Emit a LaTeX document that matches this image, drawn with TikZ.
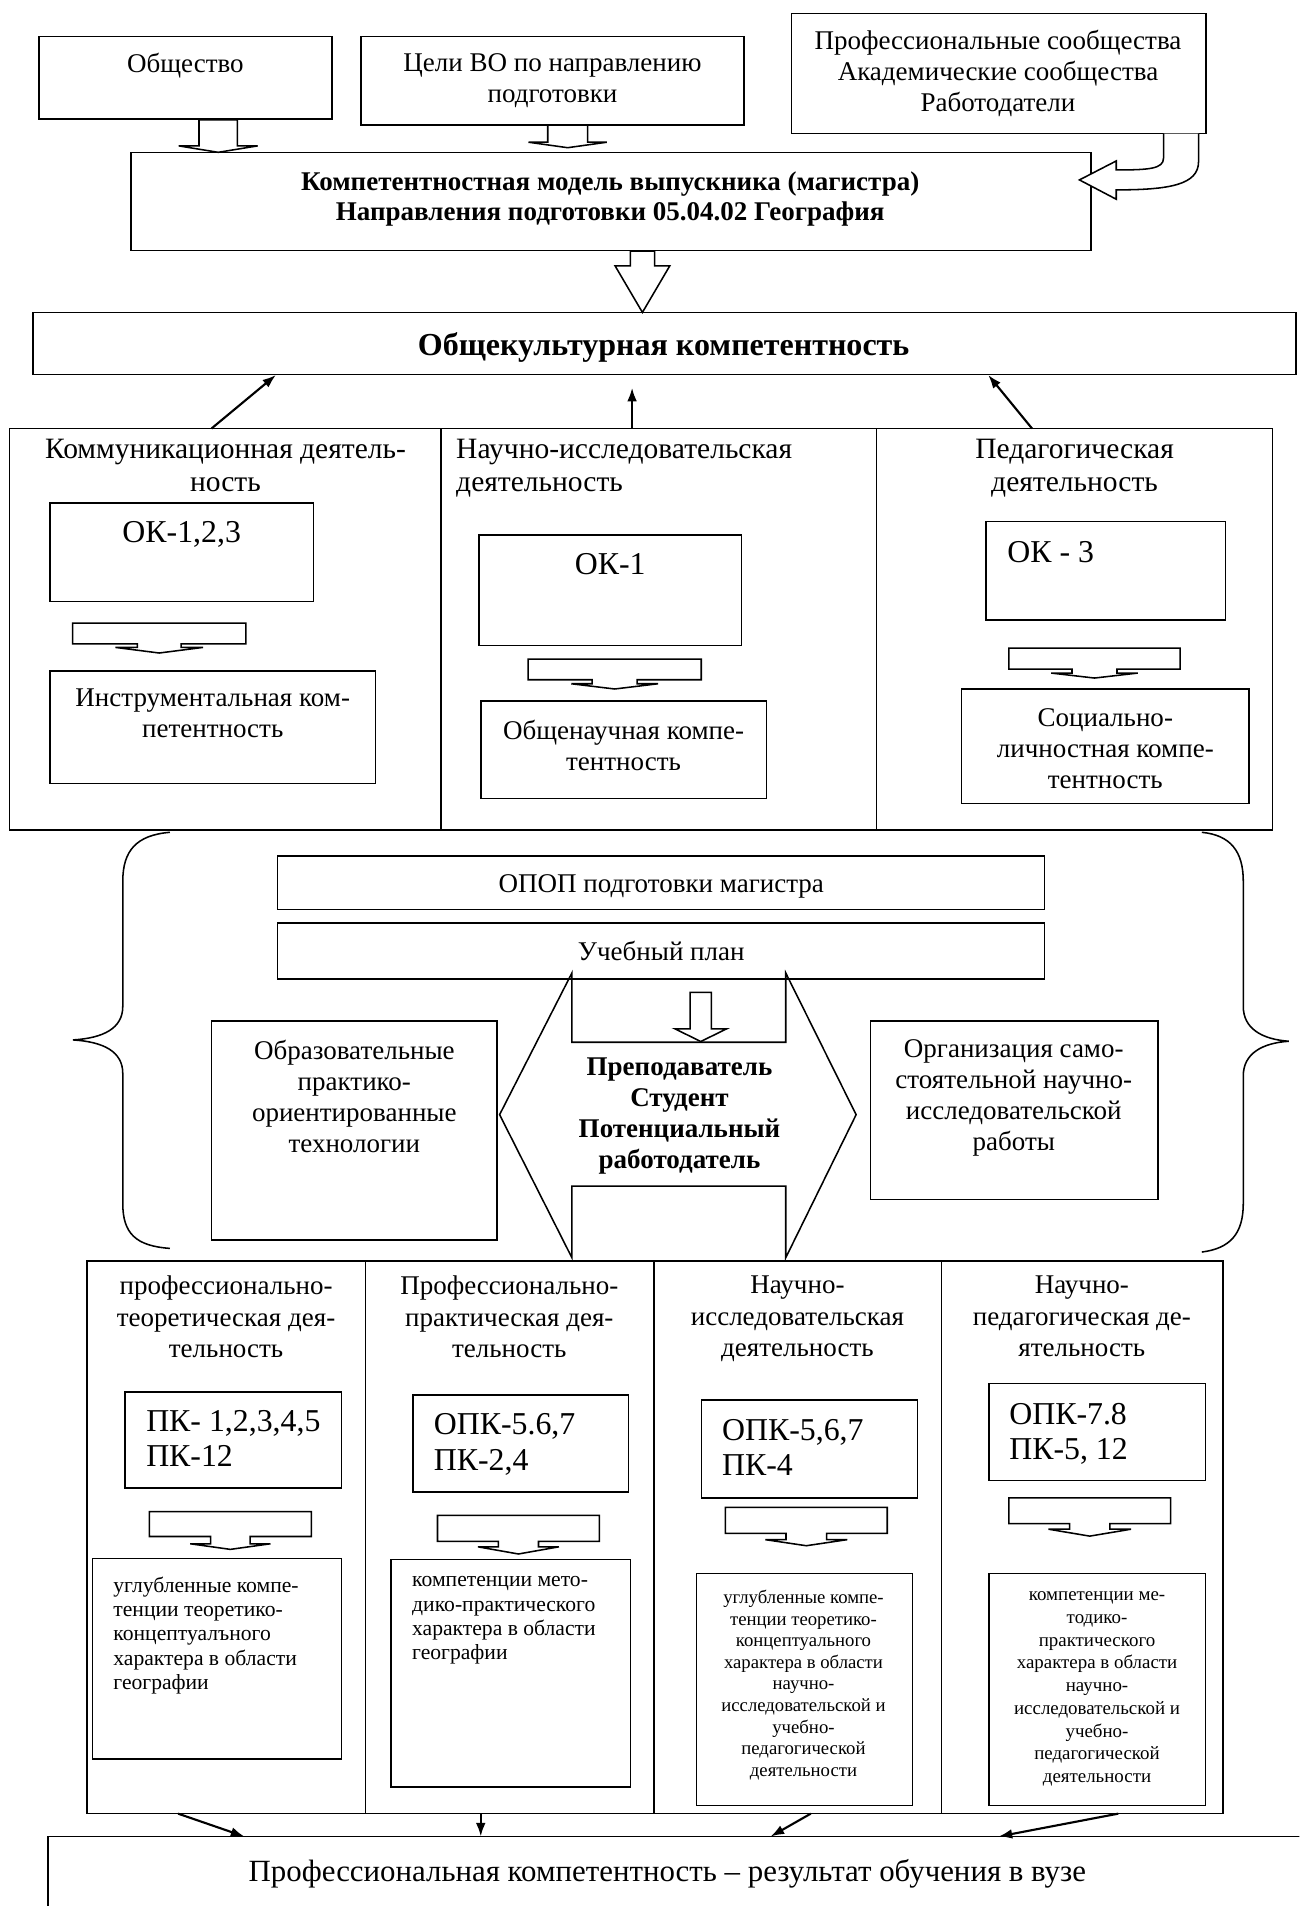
\documentclass[tikz,border=0pt]{standalone}
\usepackage{fontspec}
\setmainfont{Liberation Serif}
\usetikzlibrary{fit,arrows.meta}
\newcommand\fN{\fontsize{14}{16.1}\selectfont}
\newcommand\fB{\fontsize{14}{15.4}\selectfont}
\newcommand\fA{\fontsize{15.3}{17}\selectfont}
\newcommand\fC{\fontsize{16.5}{18.3}\selectfont}
\newcommand\fH{\fontsize{16.6}{19}\selectfont}
\newcommand\fR{\fontsize{16}{18.4}\selectfont}
\newcommand\fS{\fontsize{11.2}{12.6}\selectfont}
\newcommand\fT{\fontsize{9.7}{11.2}\selectfont}
\newcommand\fU{\fontsize{9.8}{11.8}\selectfont}
% flat block arrow: cx, ytop, rect half, rect bottom, neck half, neck bottom, head half, tip y
\newcommand\flatarr[8]{%
  \draw[blk] ({#1-#3},#2) -- ({#1+#3},#2) -- ({#1+#3},#4) -- ({#1+#5},#4) -- ({#1+#5},#6) -- ({#1+#7},#6) -- (#1,#8) -- ({#1-#7},#6) -- ({#1-#5},#6) -- ({#1-#5},#4) -- ({#1-#3},#4) -- cycle;}
% hollow down arrow: cx, ytop, shaft half, head base y, head half, tip y
\newcommand\downarr[6]{%
  \draw[blk] ({#1-#3},#2) -- ({#1+#3},#2) -- ({#1+#3},#4) -- ({#1+#5},#4) -- (#1,#6) -- ({#1-#5},#4) -- ({#1-#3},#4) -- cycle;}
\begin{document}
\begin{tikzpicture}[x=0.63pt,y=-0.63pt,
  box/.style={draw, line width=0.8pt, inner sep=0pt, fit={#1}},
  blk/.style={draw, line width=0.8pt, fill=white, line join=miter},
  txt/.style={inner sep=0pt, align=center, anchor=north, font=\fN},
  txtl/.style={inner sep=0pt, align=left, anchor=north west, font=\fN},
  conn/.style={line width=1.1pt, -{Latex[length=7pt,width=5pt]}}]
\fill[white] (0,0) rectangle (1069,1568);
\clip (0,0) rectangle (1069,1568);

% ---------- top row ----------
\node[box={(32,30)(273,98)}] (soc) {};
\node[txt] (tsoc) at (152.5,43.6) {Общество};
\node[box={(297,30)(612,103)}] (goal) {};
\node[txt] (tgoal) at (454.5,43.6) {Цели ВО по направлению\\подготовки};
\node[box={(651,11)(992,110)}] (comm) {};
\node[txt] (tcomm) at (821,24.6) {Профессиональные сообщества\\Академические сообщества\\Работодатели};

\node[box={(107.7,125.3)(897.7,206)}] (model) {};
\node[txt,font=\fB\bfseries] (tmodel) at (502,141) {Компетентностная модель выпускника (магистра)\\Направления подготовки 05.04.02 География};

\downarr{179.5}{98.5}{15.8}{120}{32.5}{125.3}
\downarr{467}{103}{16.4}{117}{32.2}{121.5}
% curved arrow from the right box
\draw[blk] (986,110) -- (986,133) .. controls (986,152) and (962,156.2) .. (918.3,156.2)
  -- (918.3,163.9) -- (888,148) -- (918.3,132.4) -- (918.3,139.8)
  .. controls (945,139.8) and (957.2,139) .. (957.2,130) -- (957.2,110);

% big arrow down
\downarr{528.5}{206.5}{10}{218.7}{22.5}{257}

\node[box={(27,257)(1066,308)}] (okul) {};
\node[txt,font=\fH\bfseries] (tokul) at (546,273) {Общекультурная компетентность};

% ---------- three activities ----------
\node[box={(8,352.5)(1047,683)}] (act) {};
\draw[line width=0.8pt] (363,352.5) -- (363,683) (721,352.5) -- (721,683);

\coordinate (u1s) at (174,352.5); \coordinate (u1e) at (227,308.5);
\coordinate (u2s) at (520,352.5); \coordinate (u2e) at (520,319);
\coordinate (u3s) at (849,352.5); \coordinate (u3e) at (813,308.5);
\draw[conn] (u1s) -- (u1e);
\draw[conn] (u2s) -- (u2e);
\draw[conn] (u3s) -- (u3e);

\node[txt,font=\fA] (ta1) at (185.5,360.8) {Коммуникационная деятель-\\ность};
\node[txtl,font=\fA] (ta2) at (375,360.8) {Научно-исследовательская\\деятельность};
\node[txt,font=\fA] (ta3) at (884,360.8) {Педагогическая\\деятельность};

\node[box={(41,414)(258,495)}] (ok1) {};
\node[txt,font=\fC] (tok1) at (149.5,429) {ОК-1,2,3};
\node[box={(394,440)(610,531)}] (ok2) {};
\node[txt,font=\fC] (tok2) at (502,455) {ОК-1};
\node[box={(811,429)(1008,510)}] (ok3) {};
\node[txtl,font=\fC] (tok3) at (828.5,445) {ОК - 3};

\flatarr{131}{512.6}{71.2}{529.6}{18}{532.6}{36}{537.2}
\flatarr{505.7}{542.2}{71.2}{559.2}{18.5}{562.5}{35.7}{566.8}
\flatarr{900.4}{533.1}{70.5}{550.4}{18.5}{553.7}{35.6}{557.8}

\node[box={(41,552)(309,644.5)}] (cp1) {};
\node[txt] (tcp1) at (175,566.6) {Инструментальная ком-\\петентность};
\node[box={(395.5,576.5)(630.7,656.7)}] (cp2) {};
\node[txt] (tcp2) at (513,592.2) {Общенаучная компе-\\тентность};
\node[box={(791,566.7)(1027.6,661)}] (cp3) {};
\node[txt] (tcp3) at (909.3,582.3) {Социально-\\личностная компе-\\тентность};

% ---------- middle block ----------
\draw[line width=0.8pt] (139.8,684.7) .. controls (112,687) and (101,700) .. (101,725) -- (101,828)
  .. controls (101,846) and (85,854) .. (60,855.5) .. controls (85,857) and (101,865) .. (101,883)
  -- (101,990) .. controls (101,1015) and (112,1025) .. (139.8,1027);
\draw[line width=0.8pt] (988.7,684.7) .. controls (1012,687) and (1022.8,700) .. (1022.8,725) -- (1022.8,828)
  .. controls (1022.8,846) and (1038,855) .. (1060.3,856.6) .. controls (1038,858) and (1022.8,867) .. (1022.8,885)
  -- (1022.8,990) .. controls (1022.8,1015) and (1012,1027) .. (988.7,1030);

\node[box={(228.4,704)(859.1,748.3)}] (opop) {};
\node[txt] (topop) at (544,719.3) {ОПОП подготовки магистра};
\node[box={(228.4,759.3)(859.1,805.3)}] (plan) {};
\node[txt] (tplan) at (544,774.2) {Учебный план};

\draw[line width=0.8pt, line join=miter] (411,917) -- (470.5,800.4) -- (470.5,857.4) -- (646.4,857.4) -- (646.4,800.4)
  -- (704.3,917) -- (646.4,1034.7) -- (646.4,975.8) -- (470.5,975.8) -- (470.5,1034.7) -- cycle;
\downarr{576.5}{816.3}{8.8}{846.4}{21.2}{856.8}
\node[txt,font=\fN\bfseries] (tpeople) at (559,870.1) {Преподаватель\\Студент\\Потенциальный\\работодатель};

\node[box={(173.9,840)(409,1020)}] (tech) {};
\node[txt] (ttech) at (291.5,855) {Образовательные\\практико-\\ориентированные\\технологии};
\node[box={(716,840)(952.6,986.8)}] (self) {};
\node[txt] (tself) at (834,855) {Организация само-\\стоятельной научно-\\исследовательской\\работы};

% ---------- four professional activities ----------
\node[box={(71.5,1037.5)(1006,1492)}] (lact) {};
\draw[line width=0.8pt] (300.7,1037.5) -- (300.7,1492) (538,1037.5) -- (538,1492) (774.5,1037.5) -- (774.5,1492);

\node[txt] (tl1) at (186,1049.6) {профессионально-\\теоретическая дея-\\тельность};
\node[txt] (tl2) at (419,1049.6) {Профессионально-\\практическая дея-\\тельность};
\node[txt] (tl3) at (656,1049.6) {Научно-\\исследовательская\\деятельность};
\node[txt] (tl4) at (890,1049.6) {Научно-\\педагогическая де-\\ятельность};

\node[box={(103,1145)(281,1224)}] (pk1) {};
\node[txtl,font=\fC] (tpk1) at (120,1160) {ПК- 1,2,3,4,5\\ПК-12};
\node[box={(339.6,1147.7)(517,1227.6)}] (pk2) {};
\node[txtl,font=\fC] (tpk2) at (356.6,1162.6) {ОПК-5.6,7\\ПК-2,4};
\node[box={(577,1151.5)(754.7,1232.3)}] (pk3) {};
\node[txtl,font=\fC] (tpk3) at (593.7,1167) {ОПК-5,6,7\\ПК-4};
\node[box={(813.5,1138)(991.7,1218)}] (pk4) {};
\node[txtl,font=\fC] (tpk4) at (830,1154) {ОПК-7.8\\ПК-5, 12};

\flatarr{189.5}{1243.5}{66.7}{1264}{16.3}{1270}{33}{1274.6}
\flatarr{426.5}{1246.6}{66.6}{1268}{16.5}{1272.5}{33.3}{1278.4}
\flatarr{663.3}{1240}{66.6}{1261.5}{16.7}{1266.6}{33.7}{1271.6}
\flatarr{896.5}{1232.3}{66.6}{1253.4}{16.5}{1258}{34}{1263.7}

\node[box={(76,1282)(281,1447)}] (r1) {};
\node[txtl,font=\fS] (tr1) at (93,1296.8) {углубленные компе-\\тенции теоретико-\\концептуалъного\\характера в области\\географии};
\node[box={(321.6,1282.8)(518.5,1470)}] (r2) {};
\node[txtl,font=\fS] (tr2) at (338.8,1296.8) {компетенции мето-\\дико-практического\\характера в области\\географии};
\node[box={(573,1294.6)(750.5,1485.4)}] (r3) {};
\node[txt,font=\fT] (tr3) at (661,1307.7) {углубленные компе-\\тенции теоретико-\\концептуального\\характера в области\\научно-\\исследовательской и\\учебно-\\педагогической\\деятельности};
\node[box={(813.5,1294.6)(991.7,1485.4)}] (r4) {};
\node[txt,font=\fU] (tr4) at (902.5,1309) {компетенции ме-\\тодико-\\практического\\характера в области\\научно-\\исследовательской и\\учебно-\\педагогической\\деятельности};

% ---------- result ----------
\node[box={(39.7,1510.8)(1085,1590)}] (prof) {};
\node[txt,font=\fR] (tprof) at (549,1529.3) {Профессиональная компетентность – результат обучения в вузе};

\coordinate (d1s) at (146.5,1492); \coordinate (d1e) at (201,1510.8);
\coordinate (d2s) at (395.5,1492); \coordinate (d2e) at (395.5,1510.8);
\coordinate (d3s) at (667,1492); \coordinate (d3e) at (634,1510.8);
\coordinate (d4s) at (920,1492); \coordinate (d4e) at (821.6,1510.8);
\draw[conn] (d1s) -- (d1e);
\draw[conn] (d2s) -- (d2e);
\draw[conn] (d3s) -- (d3e);
\draw[conn] (d4s) -- (d4e);
\end{tikzpicture}
\end{document}
